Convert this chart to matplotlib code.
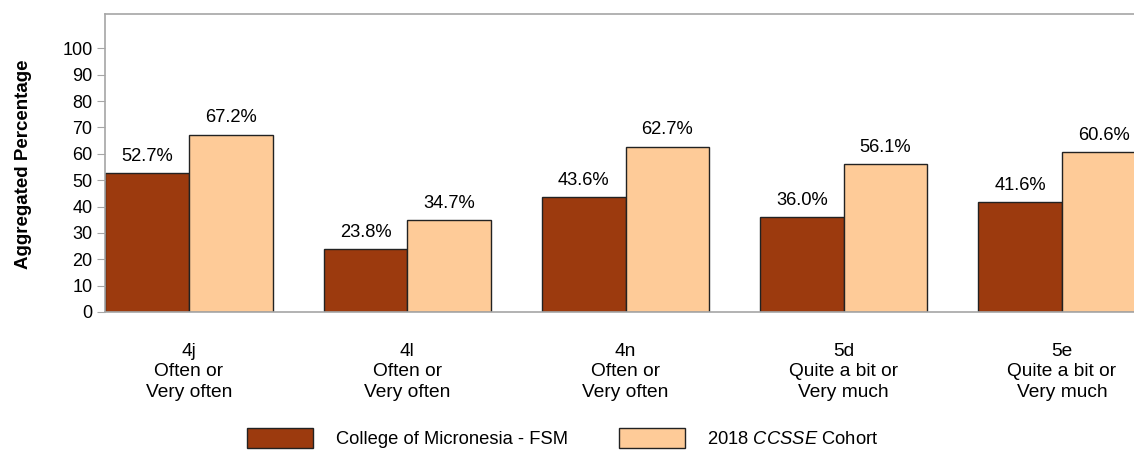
import matplotlib
matplotlib.use('Agg')
import numpy as np
from matplotlib import pyplot as plt

plt.rcParams['font.family'] = ['Liberation Sans', 'DejaVu Sans']
plt.rcParams['mathtext.fontset'] = 'custom'
plt.rcParams['mathtext.it'] = 'Liberation Sans:italic'
plt.rcParams['mathtext.rm'] = 'Liberation Sans'

items = ['4j', '4l', '4n', '5d', '5e']
responses = ['Often or\nVery often', 'Often or\nVery often', 'Often or\nVery often',
             'Quite a bit or\nVery much', 'Quite a bit or\nVery much']
college = [52.7, 23.8, 43.6, 36.0, 41.6]
cohort = [67.2, 34.7, 62.7, 56.1, 60.6]
series_names = ['College of Micronesia - FSM', '2018 $\\mathit{CCSSE}$ Cohort']

dark = '#9C3A0E'
light = '#FECB98'
gray = '#A6A6A6'

fig = plt.figure(figsize=(11.34, 4.54), dpi=100)
ax = fig.add_axes([105 / 1134, 1 - 312 / 454, 1 - 105 / 1134, (312 - 14) / 454])

x = np.arange(len(items))
w = 0.383
b1 = ax.bar(x - w / 2, college, w, color=dark, edgecolor='#222222', linewidth=1.0, label=series_names[0])
b2 = ax.bar(x + w / 2, cohort, w, color=light, edgecolor='#222222', linewidth=1.0, label=series_names[1])

for bars, vals in [(b1, college), (b2, cohort)]:
    for bar, v in zip(bars, vals):
        ax.annotate('%.1f%%' % v, (bar.get_x() + bar.get_width() / 2, v),
                    xytext=(0, 6), textcoords='offset points',
                    ha='center', va='bottom', fontsize=13.2)

ax.set_xlim(-0.385, 4.33)
ax.set_ylim(0, 113)
ax.set_yticks(range(0, 101, 10))
ax.set_xticks(x)
ax.set_xticklabels([i + '\n' + r for i, r in zip(items, responses)], fontsize=13.8, linespacing=1.3)
ax.tick_params(axis='x', length=0, pad=22)
ax.tick_params(axis='y', length=6, color=gray, labelsize=13, pad=3)

for s in ['top', 'left', 'bottom']:
    ax.spines[s].set_color(gray)
    ax.spines[s].set_linewidth(1.2)
ax.spines['right'].set_visible(False)

ax.set_ylabel('Aggregated Percentage', fontsize=13.5, fontweight='bold')
ax.yaxis.set_label_coords(-0.071, 0.497)

fig.legend(handles=[b1, b2], labels=series_names, loc='center',
           bbox_to_anchor=(0.4965, 1 - 438 / 454), ncol=2, frameon=False,
           fontsize=13.2, handlelength=3.6, handleheight=1.33,
           handletextpad=1.25, columnspacing=2.75)

fig.savefig('out.png', dpi=100)
